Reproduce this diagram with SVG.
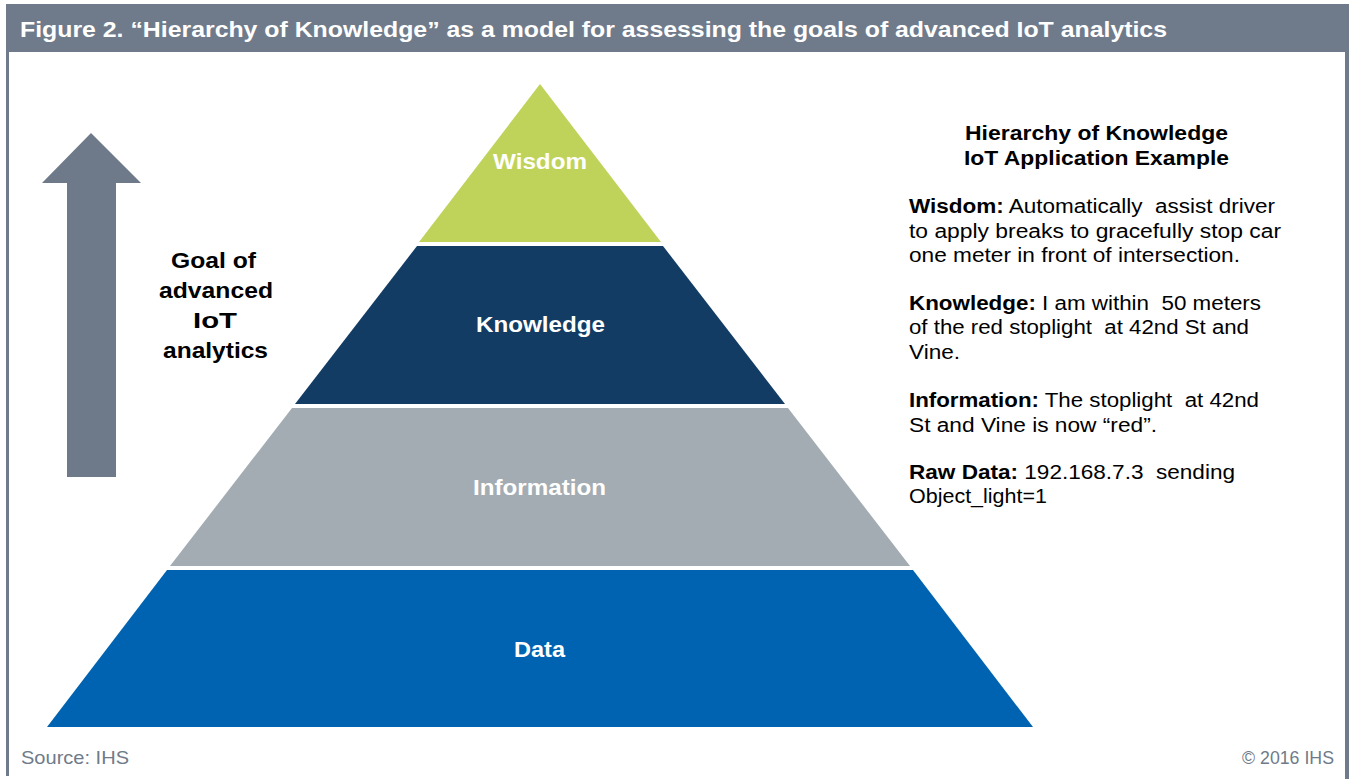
<svg xmlns="http://www.w3.org/2000/svg" width="1351" height="779" viewBox="0 0 1351 779">
<style>
.t{font-family:"Liberation Sans",Arial,sans-serif}
.lbl{font-family:"Liberation Sans",Arial,sans-serif;font-weight:bold;font-size:22px;fill:#ffffff}
.goal{font-family:"Liberation Sans",Arial,sans-serif;font-weight:bold;font-size:22px;fill:#000000}
.body{font-family:"Liberation Sans",Arial,sans-serif;font-size:20px;fill:#000000;white-space:pre}
.b{font-weight:bold}
.foot{font-family:"Liberation Sans",Arial,sans-serif;font-size:19px;fill:#6f7b8a}
</style>
<rect x="0" y="0" width="1351" height="779" fill="#ffffff"/>
<g id="frame">
<rect x="6" y="4" width="1343" height="48" fill="#6f7b8a"/>
<rect x="6" y="52" width="3" height="724" fill="#6f7b8a"/>
<rect x="1345" y="52" width="4" height="727" fill="#6f7b8a"/>
<text class="t" x="20" y="37" font-size="22" font-weight="bold" fill="#ffffff" textLength="1147" lengthAdjust="spacingAndGlyphs">Figure 2. “Hierarchy of Knowledge” as a model for assessing the goals of advanced IoT analytics</text>
</g>
<g id="arrow">
<polygon points="91,133 141,183 116,183 116,477 67,477 67,183 42,183" fill="#6e7a89"/>
</g>
<g id="goal">
<text class="goal" x="171" y="268" textLength="85" lengthAdjust="spacingAndGlyphs">Goal of</text>
<text class="goal" x="159" y="298" textLength="114" lengthAdjust="spacingAndGlyphs">advanced</text>
<text class="goal" x="193" y="328" textLength="44" lengthAdjust="spacingAndGlyphs">IoT</text>
<text class="goal" x="163" y="358" textLength="105" lengthAdjust="spacingAndGlyphs">analytics</text>
</g>
<g id="wisdom">
<polygon points="540,84 661,242 419,242" fill="#bfd35a"/>
<text class="lbl" x="493" y="169" textLength="94" lengthAdjust="spacingAndGlyphs">Wisdom</text>
</g>
<g id="knowledge">
<polygon points="417,246 663,246 785,404 295,404" fill="#123c64"/>
<text class="lbl" x="476" y="332" textLength="129" lengthAdjust="spacingAndGlyphs">Knowledge</text>
</g>
<g id="information">
<polygon points="292,408 788,408 910,566 170,566" fill="#a2acb2"/>
<text class="lbl" x="473" y="495" textLength="133" lengthAdjust="spacingAndGlyphs">Information</text>
</g>
<g id="data">
<polygon points="167,570 913,570 1033,727 47,727" fill="#0063b1"/>
<text class="lbl" x="514" y="657" textLength="51" lengthAdjust="spacingAndGlyphs">Data</text>
</g>
<g id="example">
<text class="body b" x="965" y="140" textLength="263" lengthAdjust="spacingAndGlyphs">Hierarchy of Knowledge</text>
<text class="body b" x="964" y="165" textLength="265" lengthAdjust="spacingAndGlyphs">IoT Application Example</text>
<text class="body" x="909" y="213" textLength="366" lengthAdjust="spacingAndGlyphs"><tspan class="b">Wisdom:</tspan> Automatically  assist driver</text>
<text class="body" x="909" y="238" textLength="372" lengthAdjust="spacingAndGlyphs">to apply breaks to gracefully stop car</text>
<text class="body" x="909" y="262" textLength="331" lengthAdjust="spacingAndGlyphs">one meter in front of intersection.</text>
<text class="body" x="909" y="310" textLength="352" lengthAdjust="spacingAndGlyphs"><tspan class="b">Knowledge:</tspan> I am within  50 meters</text>
<text class="body" x="909" y="334" textLength="340" lengthAdjust="spacingAndGlyphs">of the red stoplight  at 42nd St and</text>
<text class="body" x="909" y="359" textLength="51" lengthAdjust="spacingAndGlyphs">Vine.</text>
<text class="body" x="909" y="407" textLength="350" lengthAdjust="spacingAndGlyphs"><tspan class="b">Information:</tspan> The stoplight  at 42nd</text>
<text class="body" x="909" y="432" textLength="248" lengthAdjust="spacingAndGlyphs">St and Vine is now “red”.</text>
<text class="body" x="909" y="479" textLength="326" lengthAdjust="spacingAndGlyphs"><tspan class="b">Raw Data:</tspan> 192.168.7.3  sending</text>
<text class="body" x="909" y="503" textLength="138" lengthAdjust="spacingAndGlyphs">Object_light=1</text>
</g>
<g id="footer">
<text class="foot" x="21" y="764" textLength="108" lengthAdjust="spacingAndGlyphs">Source: IHS</text>
<text class="foot" x="1242" y="764" textLength="92" lengthAdjust="spacingAndGlyphs">© 2016 IHS</text>
</g>
</svg>
